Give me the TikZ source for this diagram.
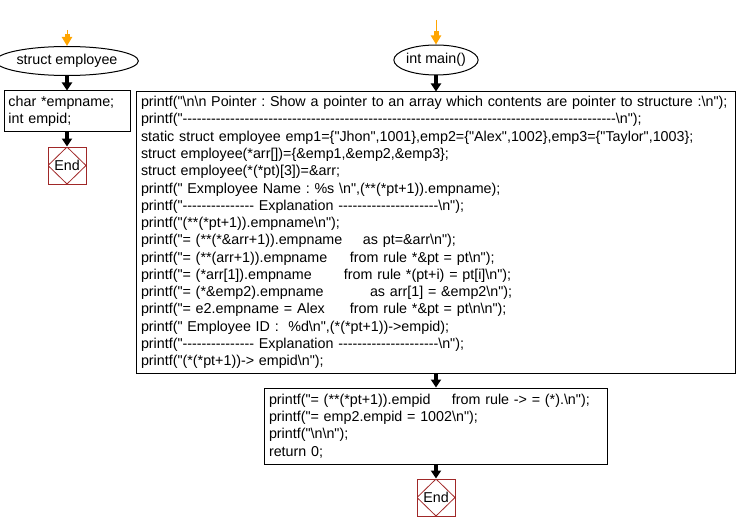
\documentclass[tikz,border=0pt]{standalone}
\usepackage{fontspec}
\setmainfont{Liberation Sans}[Ligatures=TeXOff]
\usetikzlibrary{shapes.geometric,arrows.meta}
\definecolor{startorange}{RGB}{255,165,0}
\definecolor{endred}{RGB}{160,40,40}
\newcommand{\bsl}{\textbackslash}
\newcommand{\col}[2]{\makebox[#1pt][l]{#2}}
\frenchspacing
\tikzset{
	codebox/.style={draw, rectangle, line width=1pt, align=left, inner xsep=4.5pt, inner ysep=2pt, font=\fontsize{14.3}{17.27}\selectfont},
	oval/.style={draw, ellipse, line width=1pt, inner sep=0pt, font=\fontsize{14.3}{17}\selectfont},
	endbox/.style={draw=endred, line width=1pt, minimum width=38pt, minimum height=37pt, inner sep=0pt,
		font=\fontsize{14.3}{17}\selectfont,
		path picture={\draw[endred, line width=0.8pt] (path picture bounding box.north) -- (path picture bounding box.east)
			-- (path picture bounding box.south) -- (path picture bounding box.west) -- cycle;}},
	flow/.style={line width=3.5pt, -{Triangle[length=8pt,width=10pt]}},
	lead/.style={startorange, line width=1pt},
	leadtip/.style={startorange, line width=5pt, -{Triangle[length=9pt,width=10pt]}}
}
\begin{document}
\begin{tikzpicture}[x=1pt,y=-1pt]
	\useasboundingbox (0,0) rectangle (738,532);
	% struct employee
	\coordinate (sstart) at (67,30);
	\coordinate (smid) at (67,34);
	\node[oval, minimum width=123pt, minimum height=29pt] (se) at (67,61) {struct employee};
	\node[codebox, text width=117pt, minimum height=40pt] (sbody) at (67,111) {char *empname;\\int empid;};
	\node[endbox] (send) at (67,165.5) {End};
	\draw[lead] (sstart) -- (smid);
	\draw[leadtip] (smid) -- (se.north);
	\draw[flow] (se.south) -- (sbody.north);
	\draw[flow] (sbody.south) -- (send.north);
	% int main()
	\coordinate (mstart) at (436,20);
	\coordinate (mmid) at (436,31);
	\node[oval, minimum width=81pt, minimum height=30pt] (mo) at (436,60) {int main()};
	\node[codebox, text width=590pt, minimum height=281pt] (mbody) at (436,232.5) {%
		\mbox{printf("\bsl n\bsl n Pointer : Show a pointer to an array which contents are pointer to structure :\bsl n");}\\
		printf("-------------------------------------------------------------------------------------------\bsl n");\\
		static struct employee emp1=\{"Jhon",1001\},emp2=\{"Alex",1002\},emp3=\{"Taylor",1003\};\\
		struct employee(*arr[])=\{\&emp1,\&emp2,\&emp3\};\\
		struct employee(*(*pt)[3])=\&arr;\\
		printf(" Exmployee Name : \%s \bsl n",(**(*pt+1)).empname);\\
		printf("--------------- Explanation ---------------------\bsl n");\\
		printf("(**(*pt+1)).empname\bsl n");\\
		\col{222}{printf("= (**(*\&arr+1)).empname}as pt=\&arr\bsl n");\\
		\col{209}{printf("= (**(arr+1)).empname}from rule *\&pt = pt\bsl n");\\
		\col{203}{printf("= (*arr[1]).empname}from rule *(pt+i) = pt[i]\bsl n");\\
		\col{229}{printf("= (*\&emp2).empname}as arr[1] = \&emp2\bsl n");\\
		\col{209}{printf("= e2.empname = Alex}from rule *\&pt = pt\bsl n\bsl n");\\
		printf(" Employee ID :\ \ \%d\bsl n",(*(*pt+1))->empid);\\
		printf("--------------- Explanation ---------------------\bsl n");\\
		printf("(*(*pt+1))-> empid\bsl n");};
	\node[codebox, text width=334pt, minimum height=76pt] (mtail) at (436,426) {%
		\col{183}{printf("= (**(*pt+1)).empid}from rule -> = (*).\bsl n");\\
		printf("= emp2.empid = 1002\bsl n");\\
		printf("\bsl n\bsl n");\\
		return 0;};
	\node[endbox] (mend) at (436,497.5) {End};
	\draw[lead] (mstart) -- (mmid);
	\draw[leadtip] (mmid) -- (mo.north);
	\draw[flow] (mo.south) -- (mbody.north);
	\draw[flow] (mbody.south) -- (mtail.north);
	\draw[flow] (mtail.south) -- (mend.north);
\end{tikzpicture}
\end{document}
